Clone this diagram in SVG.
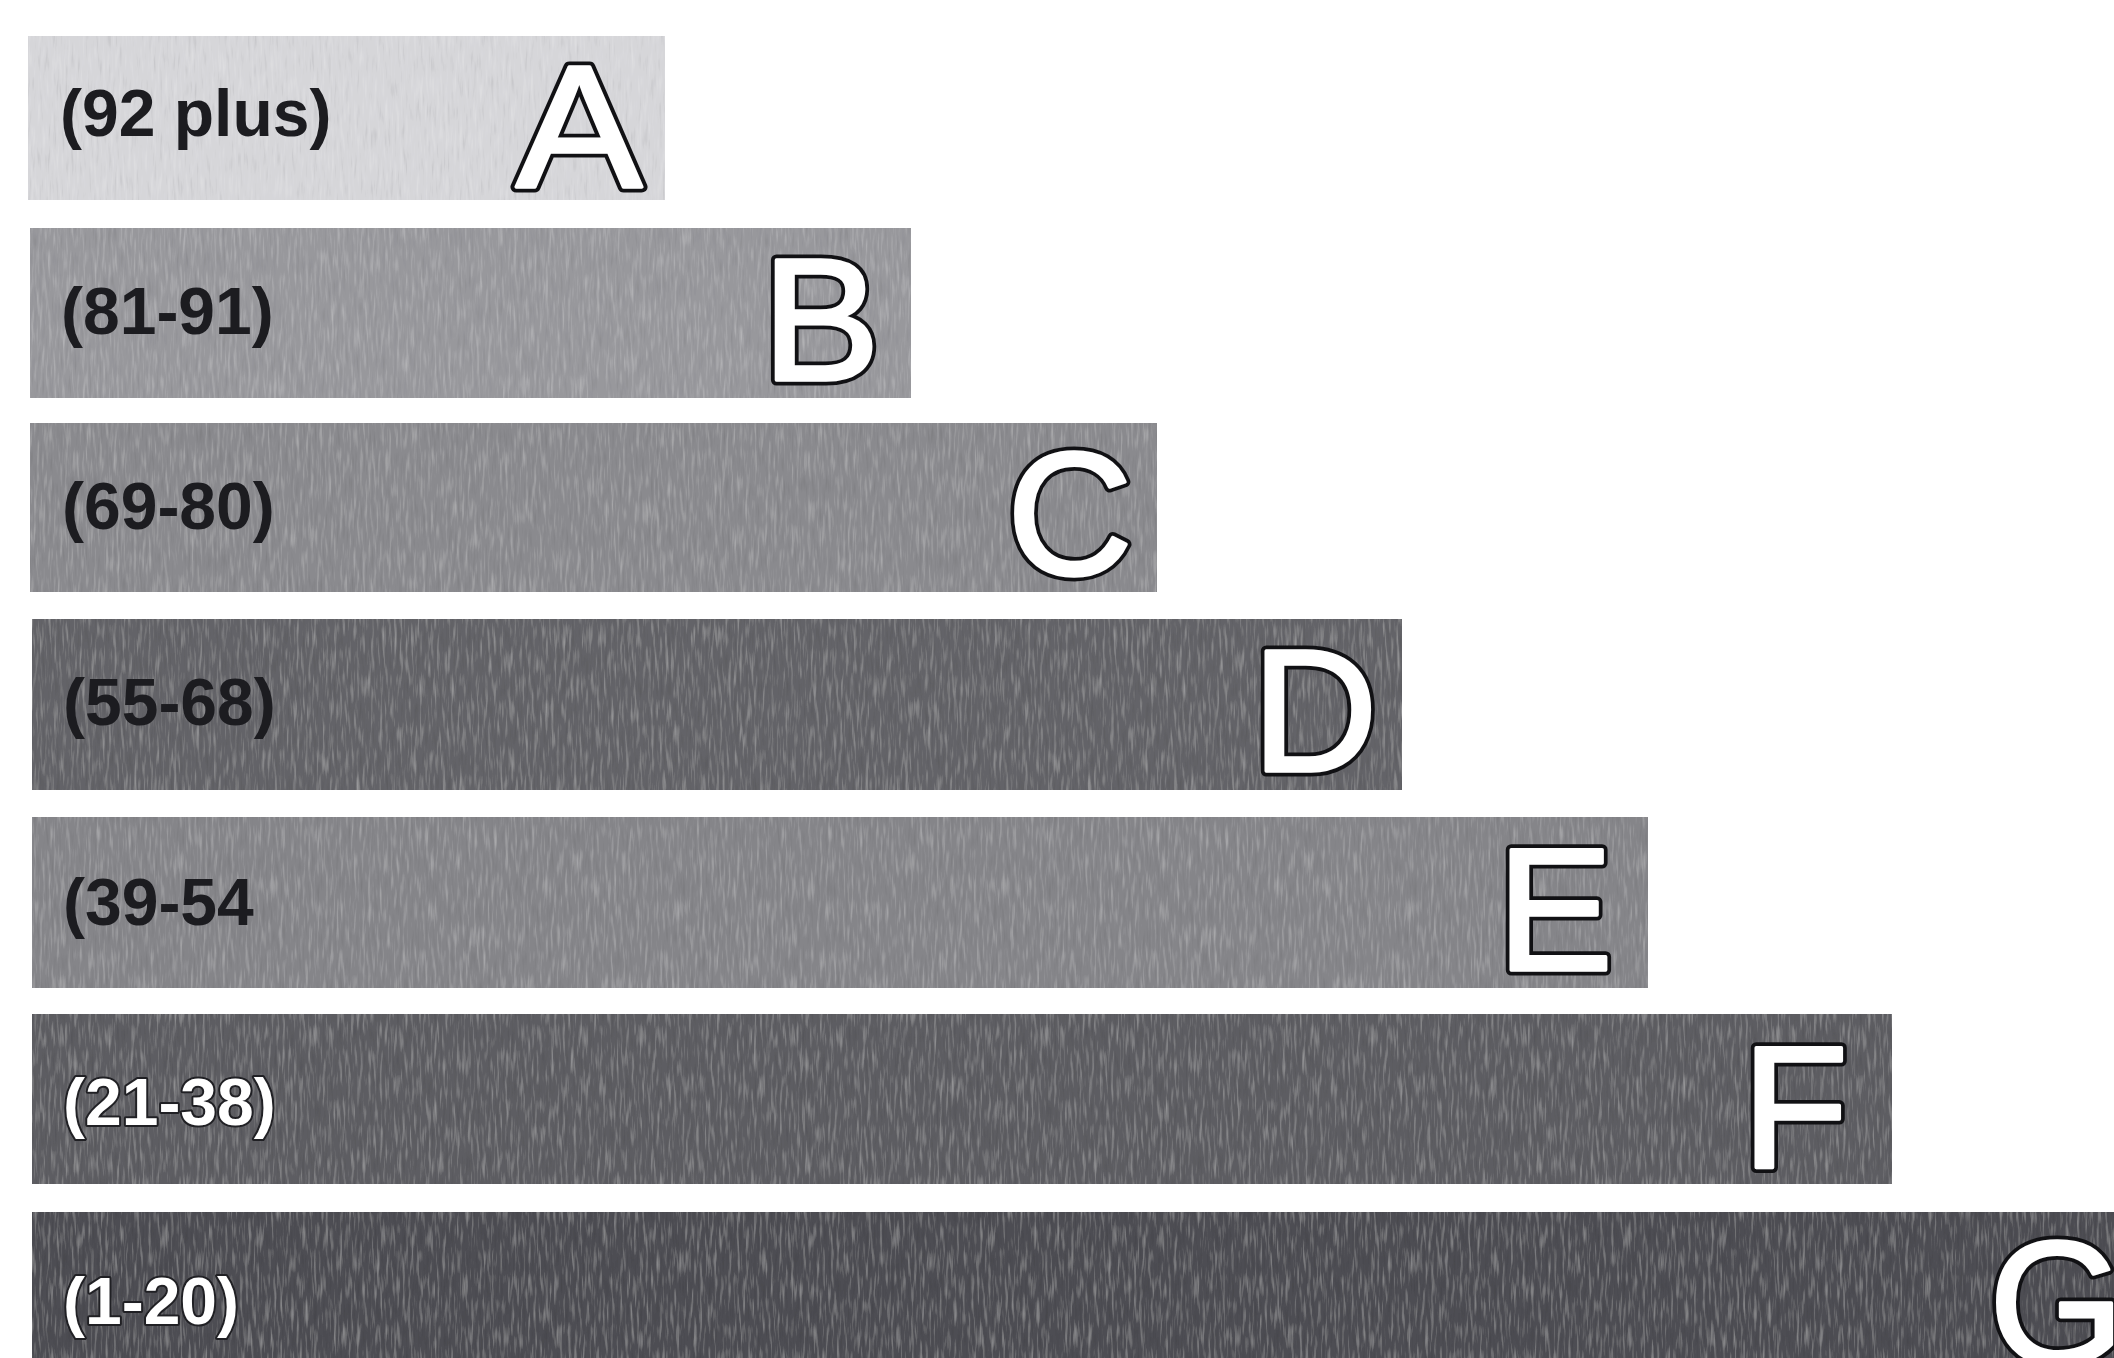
<svg xmlns="http://www.w3.org/2000/svg" width="2114" height="1358" viewBox="0 0 2114 1358">
<defs>
<filter id="grain" x="0" y="0" width="100%" height="100%">
<feTurbulence type="fractalNoise" baseFrequency="0.35 0.04" numOctaves="2" seed="7" result="n"/>
<feColorMatrix in="n" type="matrix" values="0 0 0 0 1  0 0 0 0 1  0 0 0 0 1  0.5 0 0 0 -0.25" result="lt"/>
<feColorMatrix in="n" type="matrix" values="0 0 0 0 0  0 0 0 0 0  0 0 0 0 0  -0.5 0 0 0 0.2" result="dk"/>
<feComposite in="lt" in2="SourceGraphic" operator="in" result="t1"/>
<feComposite in="dk" in2="SourceGraphic" operator="in" result="t2"/>
<feMerge><feMergeNode in="SourceGraphic"/><feMergeNode in="t1"/><feMergeNode in="t2"/></feMerge>
</filter>
</defs>
<style>
.bar{filter:url(#grain)}
.lbl{font-family:"Liberation Sans",Arial,sans-serif;font-weight:bold;font-size:66px;fill:#1c1c20}
.lbl.inv{fill:#ffffff;stroke:#202024;stroke-width:4px;paint-order:stroke;stroke-linejoin:round}
.big{font-family:"Liberation Sans",Arial,sans-serif;font-size:174px;fill:#ffffff;stroke:#111114;stroke-width:11px;paint-order:stroke;stroke-linejoin:round}
.bigw{font-family:"Liberation Sans",Arial,sans-serif;font-size:174px;fill:#ffffff;stroke:#ffffff;stroke-width:3.5px;stroke-linejoin:round}
</style>
<rect width="2114" height="1358" fill="#ffffff"/>
<g id="grade-A">
<rect class="bar" x="28" y="36" width="637" height="164" fill="#d6d6d9"/>
<text class="lbl" x="60" y="136">(92 plus)</text>
<text class="big" x="516" y="187" textLength="126" lengthAdjust="spacingAndGlyphs">A</text>
<text class="bigw" x="516" y="187" textLength="126" lengthAdjust="spacingAndGlyphs">A</text>
</g>
<g id="grade-B">
<rect class="bar" x="30" y="228" width="881" height="170" fill="#98989c"/>
<text class="lbl" x="61" y="334">(81-91)</text>
<text class="big" x="762" y="380" textLength="118" lengthAdjust="spacingAndGlyphs">B</text>
<text class="bigw" x="762" y="380" textLength="118" lengthAdjust="spacingAndGlyphs">B</text>
</g>
<g id="grade-C">
<rect class="bar" x="30" y="423" width="1127" height="169" fill="#8a8a8e"/>
<text class="lbl" x="62" y="529">(69-80)</text>
<text class="big" x="1007" y="574">C</text>
<text class="bigw" x="1007" y="574">C</text>
</g>
<g id="grade-D">
<rect class="bar" x="32" y="619" width="1370" height="171" fill="#636368"/>
<text class="lbl" x="63" y="725">(55-68)</text>
<text class="big" x="1252" y="771">D</text>
<text class="bigw" x="1252" y="771">D</text>
</g>
<g id="grade-E">
<rect class="bar" x="32" y="817" width="1616" height="171" fill="#858589"/>
<text class="lbl" x="63" y="925">(39-54</text>
<text class="big" x="1497" y="970">E</text>
<text class="bigw" x="1497" y="970">E</text>
</g>
<g id="grade-F">
<rect class="bar" x="32" y="1014" width="1860" height="170" fill="#5d5d62"/>
<text class="lbl inv" x="63" y="1125">(21-38)</text>
<text class="big" x="1742" y="1168">F</text>
<text class="bigw" x="1742" y="1168">F</text>
</g>
<g id="grade-G">
<rect class="bar" x="32" y="1212" width="2082" height="146" fill="#4e4e53"/>
<text class="lbl inv" x="63" y="1324">(1-20)</text>
<text class="big" x="1989" y="1363">G</text>
<text class="bigw" x="1989" y="1363">G</text>
</g>
<g id="connectors"/>
</svg>
